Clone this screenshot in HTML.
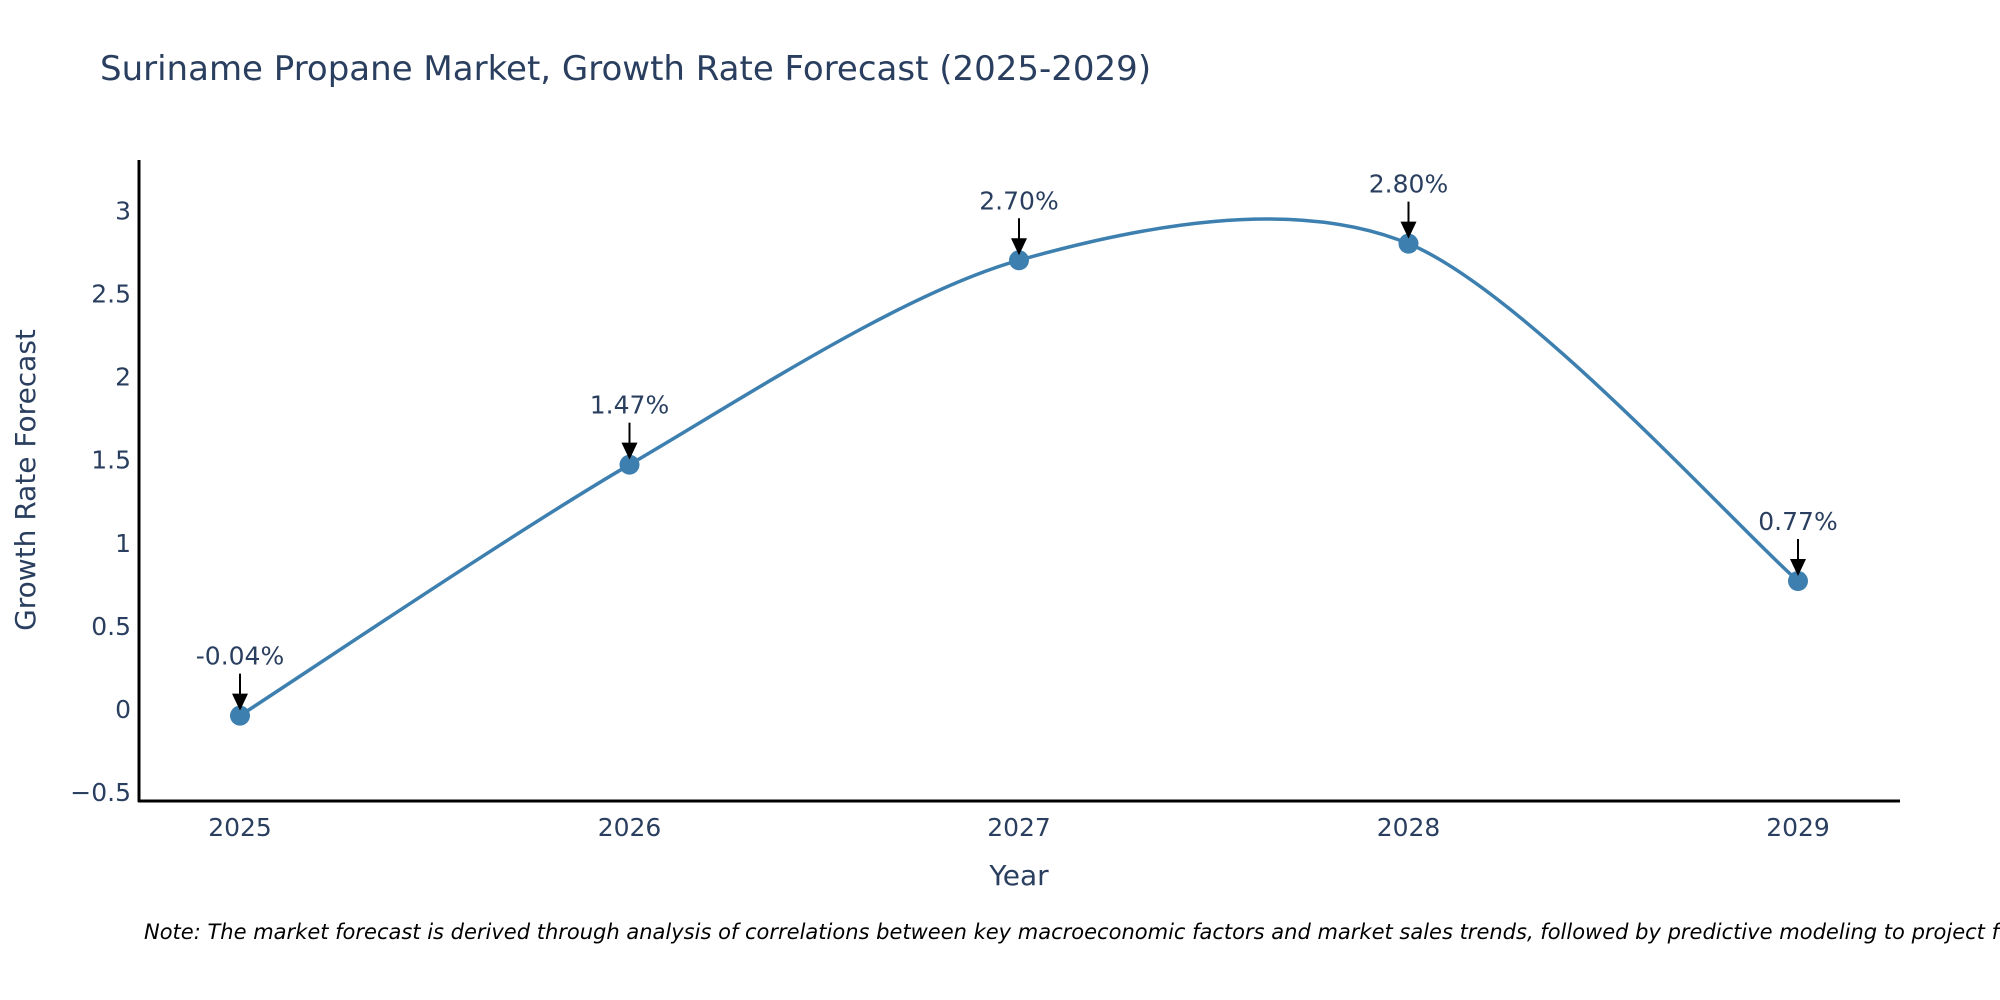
<!DOCTYPE html>
<html><head><meta charset="utf-8"><style>
body{margin:0;background:#fff;overflow:hidden;}
svg{display:block;font-family:"DejaVu Sans","Liberation Sans",sans-serif;}
</style></head><body>
<svg id="chart" width="2000" height="1000" viewBox="0 0 2000 1000">
<text x="100" y="80" font-size="34" fill="#2a3f5f">Suriname Propane Market, Growth Rate Forecast (2025-2029)</text>
<g id="yticks"></g>
<g id="xticks"></g>
<line x1="139" y1="160" x2="139" y2="802" stroke="#000" stroke-width="3"/>
<line x1="138" y1="801" x2="1900" y2="801" stroke="#000" stroke-width="3"/>
<text transform="translate(35,480) rotate(-90)" text-anchor="middle" font-size="28" fill="#2a3f5f">Growth Rate Forecast</text>
<text x="1019" y="885" text-anchor="middle" font-size="28" fill="#2a3f5f">Year</text>
<path id="line" fill="none" stroke="#3d80b0" stroke-width="3.5"/>
<g id="marks"></g>
<text x="144" y="939" font-size="21" font-style="italic" fill="#000">Note: The market forecast is derived through analysis of correlations between key macroeconomic factors and market sales trends, followed by predictive modeling to project future sales.</text>
</svg>
<script>
const years = ['2025','2026','2027','2028','2029'];
const values = [-0.04, 1.47, 2.70, 2.80, 0.77];
const labels = ['-0.04%','1.47%','2.70%','2.80%','0.77%'];
const yTicks = [-0.5, 0, 0.5, 1, 1.5, 2, 2.5, 3];
const yTickLabels = ['\u22120.5','0','0.5','1','1.5','2','2.5','3'];
const NS='http://www.w3.org/2000/svg';
const xs = i => 240 + i*389.5;
const ys = v => 709 - v*166.2;
function mk(tag, attrs, parent, txt){const e=document.createElementNS(NS,tag);for(const k in attrs)e.setAttribute(k,attrs[k]);if(txt!==undefined)e.textContent=txt;parent.appendChild(e);return e;}
const yt=document.getElementById('yticks');
yTicks.forEach((t,i)=>{
  const e=mk('text',{x:131,y:ys(t)+9,'text-anchor':'end','font-size':25,fill:'#2a3f5f'},yt,yTickLabels[i]);
  
  
});
const xt=document.getElementById('xticks');
years.forEach((y,i)=>{
  const e=mk('text',{x:xs(i),y:836,'text-anchor':'middle','font-size':25,fill:'#2a3f5f'},xt,y);
  
  
});
const P=values.map((v,i)=>[xs(i),ys(v)]);
let d='M'+P[0][0]+','+P[0][1];
const s=0.30;
for(let i=0;i<P.length-1;i++){
  const p0=P[Math.max(0,i-1)],p1=P[i],p2=P[i+1],p3=P[Math.min(P.length-1,i+2)];
  const c1=[p1[0]+(p2[0]-p0[0])*s/2,p1[1]+(p2[1]-p0[1])*s/2];
  const c2=[p2[0]-(p3[0]-p1[0])*s/2,p2[1]-(p3[1]-p1[1])*s/2];
  d+=' C'+c1[0]+','+c1[1]+' '+c2[0]+','+c2[1]+' '+p2[0]+','+p2[1];
}
document.getElementById('line').setAttribute('d',d);
const mg=document.getElementById('marks');
values.forEach((v,i)=>{
  const x=xs(i),y=ys(v);
  const c=mk('circle',{cx:x,cy:y,r:10,fill:'#3d80b0'},mg);
  
  
  const l=mk('line',{x1:x,y1:y-42,x2:x,y2:y-18,stroke:'#000','stroke-width':2},mg);
  
  
  const a=mk('path',{d:`M${x-8},${y-22} L${x+8},${y-22} L${x},${y-5} Z`,fill:'#000'},mg);
  
  
  const t=mk('text',{x:x,y:y-51,'text-anchor':'middle','font-size':25,fill:'#2a3f5f'},mg,labels[i]);
  
  
});
</script>
</body></html>
